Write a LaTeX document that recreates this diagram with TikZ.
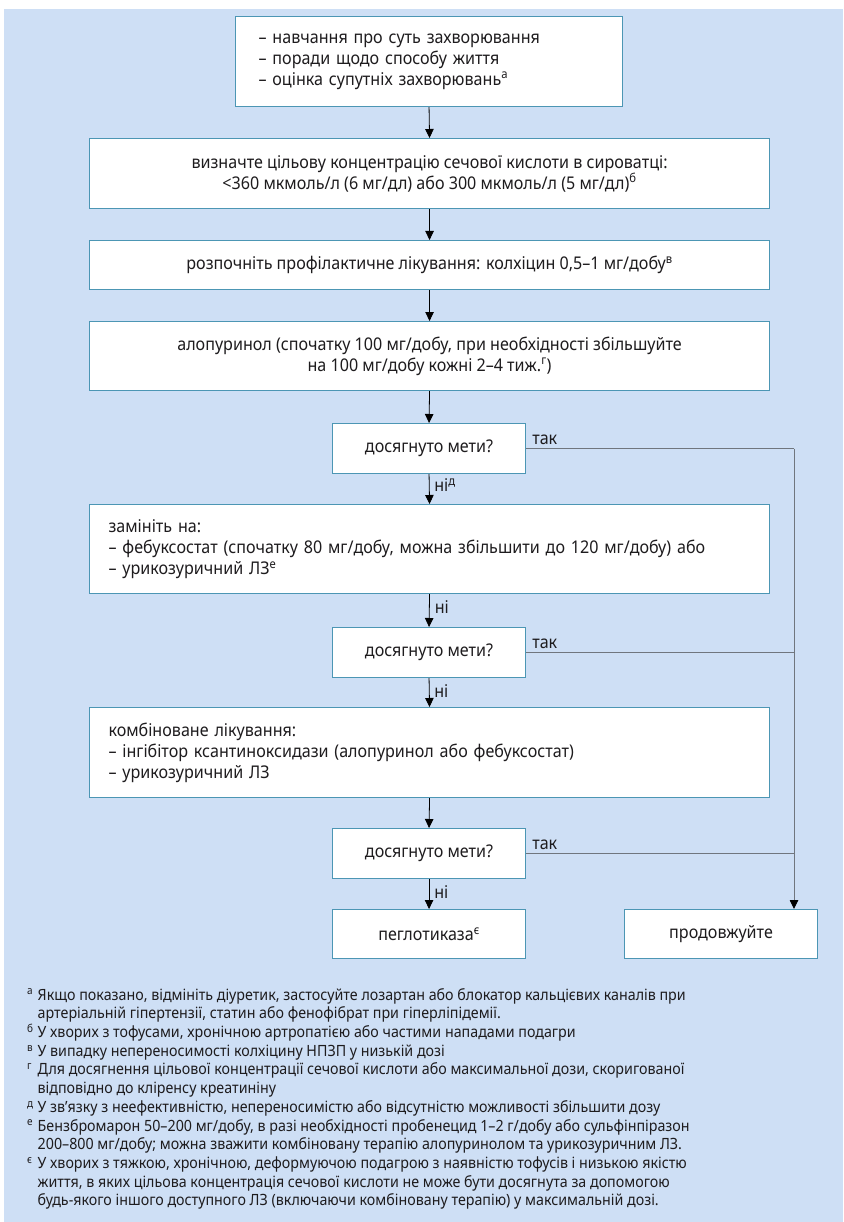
\documentclass[tikz,border=0pt]{standalone}
\usepackage{fontspec}
\setmainfont[FakeStretch=0.92]{Noto Sans}
\newfontfamily\boxfam[FakeStretch=0.92]{Noto Sans}
\newfontfamily\notefam[FakeStretch=0.92]{Noto Sans}
\usetikzlibrary{arrows.meta}
\definecolor{bg}{RGB}{206,223,245}
\definecolor{bord}{RGB}{76,150,180}
\definecolor{lgray}{RGB}{112,118,126}
\definecolor{txt}{RGB}{30,28,30}
\newcommand{\boxfont}{\boxfam\fontsize{17.5}{21}\selectfont}
\newcommand{\notefont}{\notefam\fontsize{15.5}{18.7}\selectfont}
\newcommand{\fnmark}[1]{\makebox[10.5pt][l]{\textsuperscript{#1}}}
\newcommand{\fnind}{\hspace*{10.5pt}}
\begin{document}
\begin{tikzpicture}[x=1pt,y=-1pt,
  box/.style={draw=bord, line width=1.1pt, fill=white, anchor=north west,
    inner sep=0pt, font=\boxfont, text=txt, align=center},
  lbox/.style={box, align=left, inner xsep=19pt},
  arr/.style={line width=0.8pt, black, -{Triangle[length=9pt,width=8.5pt]}},
  yes/.style={line width=0.9pt, lgray},
  lbl/.style={font=\boxfont, text=txt, inner sep=0pt}]
\useasboundingbox (0,0) rectangle (843,1222);
\fill[white] (0,0) rectangle (843,1222);
\fill[bg] (4,9) rectangle (843,1222);

\node[lbox, inner xsep=23pt, text width=341pt, minimum width=387pt, minimum height=90pt] (b1) at (235,16)
 {– навчання про суть захворювання\\– поради щодо способу життя\\– оцінка супутніх захворювань\textsuperscript{а}};
\node[box, minimum width=680pt, minimum height=70pt] (b2) at (89,138)
 {визначте цільову концентрацію сечової кислоти в сироватці:\\<360 мкмоль/л (6 мг/дл) або 300 мкмоль/л (5 мг/дл)\textsuperscript{б}};
\node[box, minimum width=680pt, minimum height=49pt] (b3) at (89,240)
 {розпочніть профілактичне лікування: колхіцин 0,5–1 мг/добу\textsuperscript{в}};
\node[box, minimum width=680pt, minimum height=69pt] (b4) at (89,321)
 {алопуринол (спочатку 100 мг/добу, при необхідності збільшуйте\\на 100 мг/добу кожні 2–4 тиж.\textsuperscript{г})};
\node[box, minimum width=193pt, minimum height=50pt] (d1) at (332,423) {досягнуто мети?};
\node[lbox, text width=642pt, minimum width=680pt, minimum height=89pt] (b5) at (89,504)
 {замініть на:\\– фебуксостат (спочатку 80 мг/добу, можна збільшити до 120 мг/добу) або\\– урикозуричний ЛЗ\textsuperscript{е}};
\node[box, minimum width=193pt, minimum height=50pt] (d2) at (332,627) {досягнуто мети?};
\node[lbox, text width=642pt, minimum width=680pt, minimum height=90pt] (b6) at (89,707)
 {комбіноване лікування:\\– інгібітор ксантиноксидази (алопуринол або фебуксостат)\\– урикозуричний ЛЗ};
\node[box, minimum width=193pt, minimum height=50pt] (d3) at (332,828) {досягнуто мети?};
\node[box, minimum width=193pt, minimum height=49pt] (pg) at (332,909) {пеглотиказа\textsuperscript{є}};
\node[box, minimum width=193pt, minimum height=49pt] (pr) at (624,909) {продовжуйте};

\draw[arr] (b1.south) -- (b2.north);
\draw[arr] (b2.south) -- (b3.north);
\draw[arr] (b3.south) -- (b4.north);
\draw[arr] (b4.south) -- (d1.north);
\draw[arr] (d1.south) -- (b5.north);
\draw[arr] (b5.south) -- (d2.north);
\draw[arr] (d2.south) -- (b6.north);
\draw[arr] (b6.south) -- (d3.north);
\draw[arr] (d3.south) -- (pg.north);

\coordinate (j1) at (794,448);
\draw[yes] (d1.east) -- (d1.east -| j1);
\draw[yes] (d2.east) -- (d2.east -| j1);
\draw[yes] (d3.east) -- (d3.east -| j1);
\draw[yes, -{Triangle[length=9pt,width=8.5pt,color=black]}] (d1.east -| j1) -- (pr.north -| j1);

\node[lbl, anchor=south west] (t1) at ([xshift=6pt,yshift=4pt]d1.east) {так};
\node[lbl, anchor=south west] (t2) at ([xshift=6pt,yshift=4pt]d2.east) {так};
\node[lbl, anchor=south west] (t3) at ([xshift=6pt,yshift=4pt]d3.east) {так};
\node[lbl, anchor=west] (n1) at ([xshift=5pt,yshift=-11pt]d1.south) {ні\textsuperscript{д}};
\node[lbl, anchor=west] (n2) at ([xshift=5pt,yshift=-13pt]b5.south) {ні};
\node[lbl, anchor=west] (n3) at ([xshift=5pt,yshift=-13pt]d2.south) {ні};
\node[lbl, anchor=west] (n4) at ([xshift=5pt,yshift=-13pt]d3.south) {ні};

\node[anchor=north west, inner sep=0pt, font=\notefont, text=txt, align=left] (fn) at (27,988)
 {\fnmark{а}Якщо показано, відмініть діуретик, застосуйте лозартан або блокатор кальцієвих каналів при\\
  \fnind артеріальній гіпертензії, статин або фенофібрат при гіперліпідемії.\\
  \fnmark{б}У хворих з тофусами, хронічною артропатією або частими нападами подагри\\
  \fnmark{в}У випадку непереносимості колхіцину НПЗП у низькій дозі\\
  \fnmark{г}Для досягнення цільової концентрації сечової кислоти або максимальної дози, скоригованої\\
  \fnind відповідно до кліренсу креатиніну\\
  \fnmark{д}У зв’язку з неефективністю, непереносимістю або відсутністю можливості збільшити дозу\\
  \fnmark{е}Бензбромарон 50–200 мг/добу, в разі необхідності пробенецид 1–2 г/добу або сульфінпіразон\\
  \fnind 200–800 мг/добу; можна зважити комбіновану терапію алопуринолом та урикозуричним ЛЗ.\\
  \fnmark{є}У хворих з тяжкою, хронічною, деформуючою подагрою з наявністю тофусів і низькою якістю\\
  \fnind життя, в яких цільова концентрація сечової кислоти не може бути досягнута за допомогою\\
  \fnind будь-якого іншого доступного ЛЗ (включаючи комбіновану терапію) у максимальній дозі.};
\end{tikzpicture}
\end{document}
